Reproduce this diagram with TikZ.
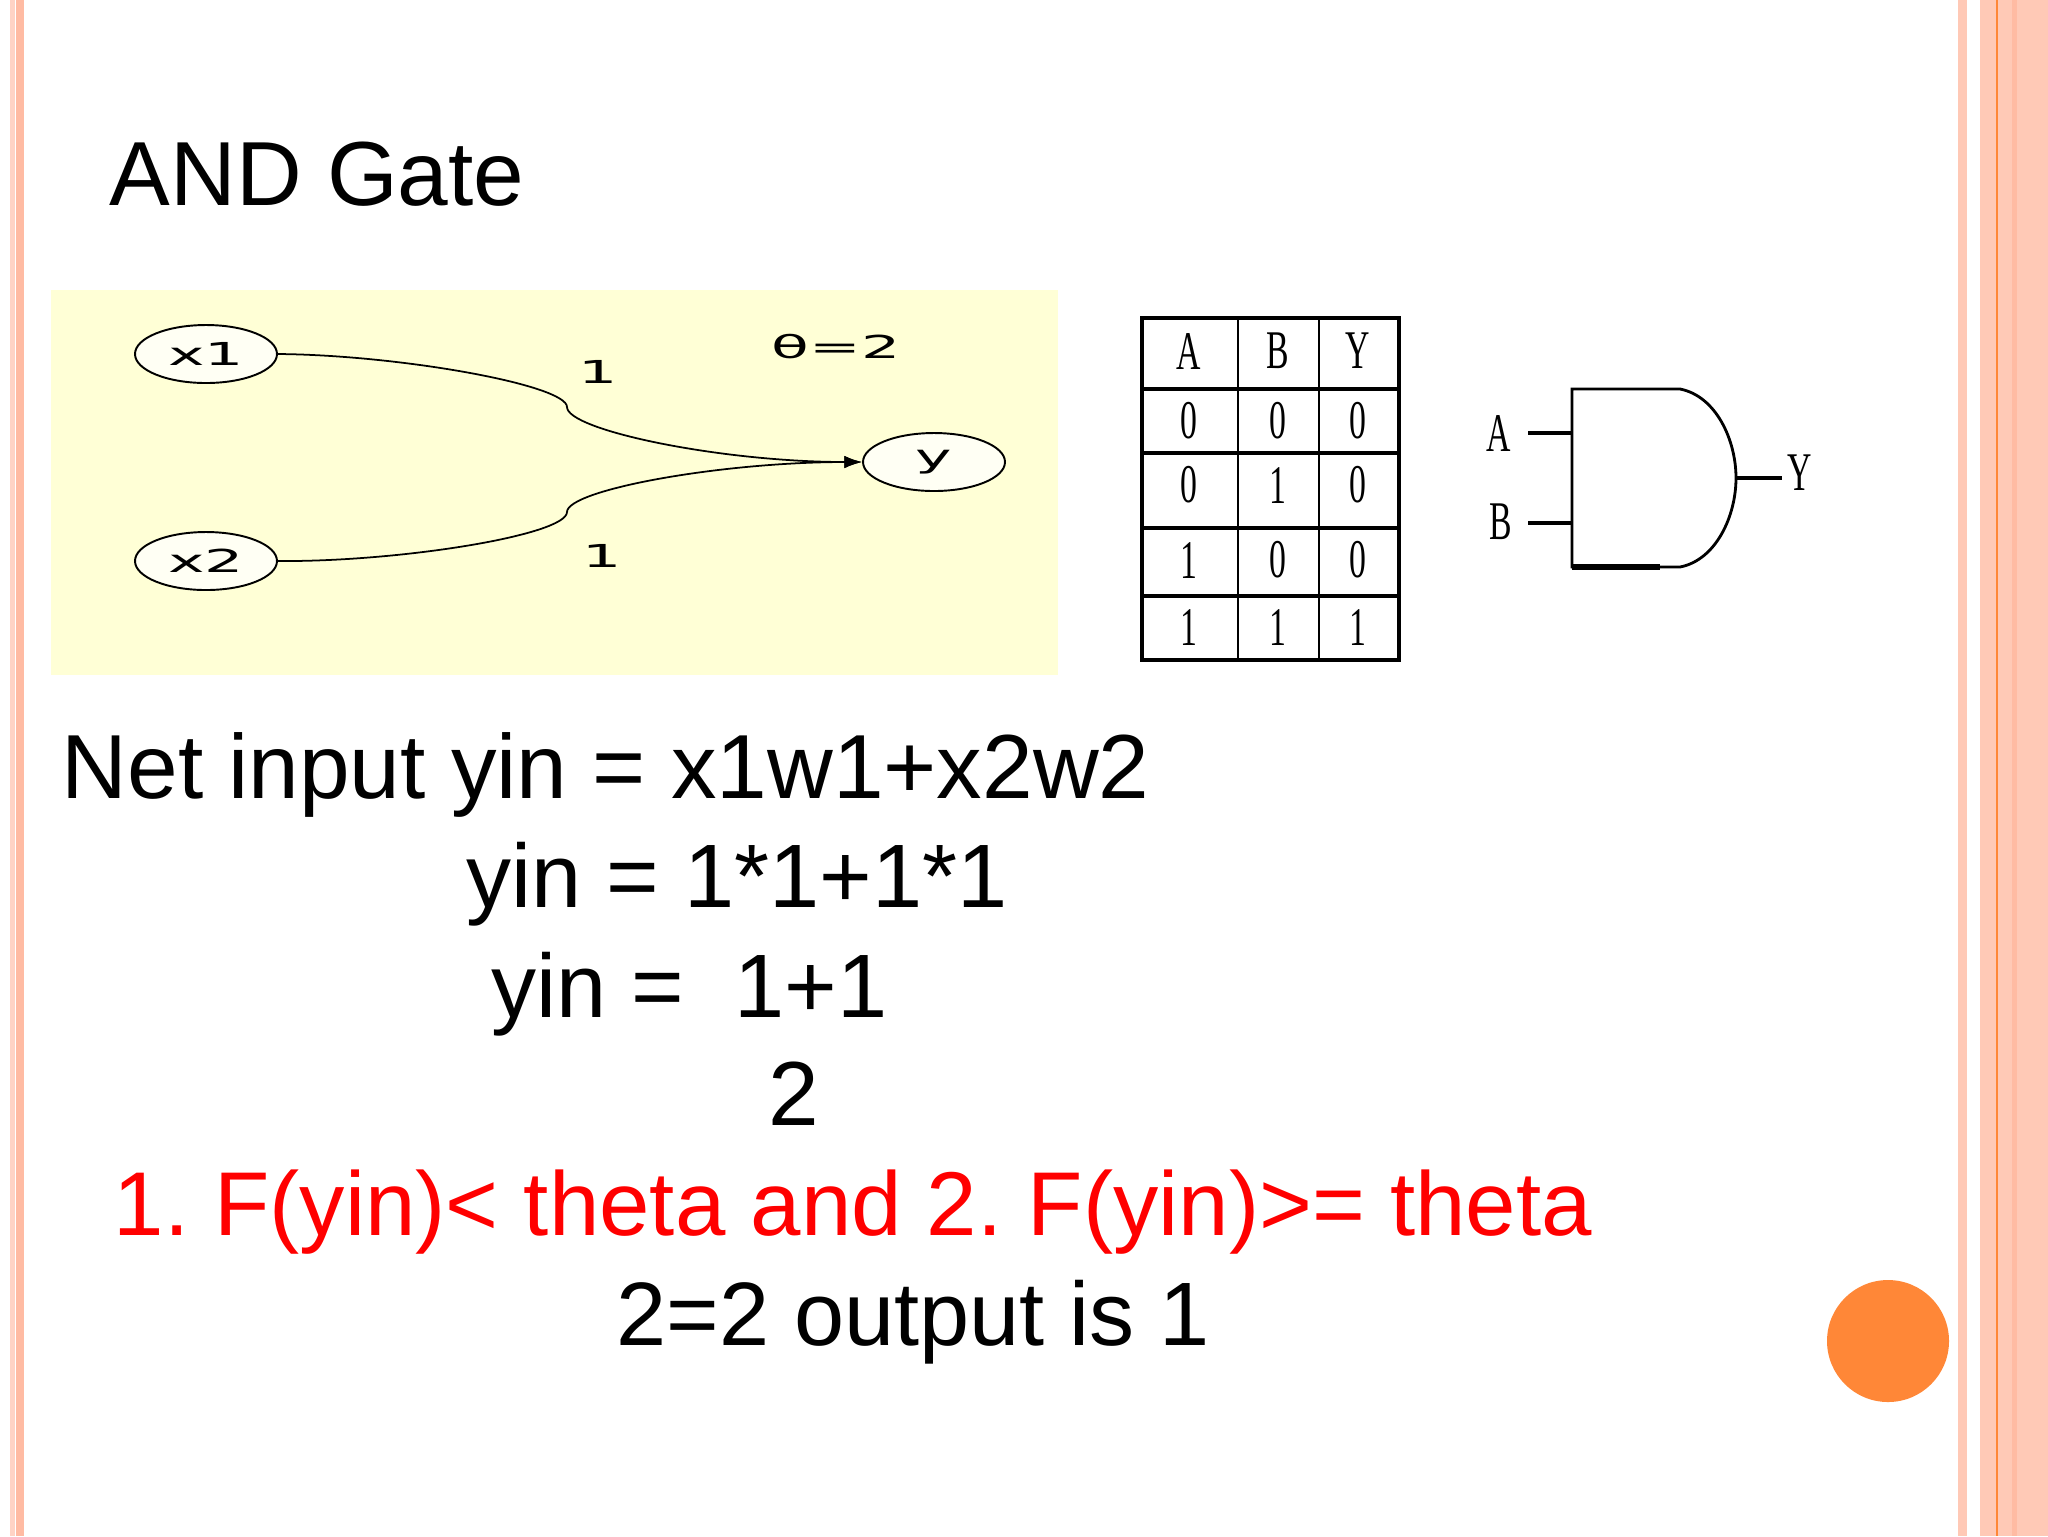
\documentclass[tikz,border=0pt]{standalone}
\usepackage{fontspec}
\usepackage{graphicx}
\setmainfont{Liberation Sans}
\newfontfamily\netfont{DejaVu Sans}
\newfontfamily\tablefont{Liberation Serif}
\usetikzlibrary{arrows.meta,shapes.geometric,calc}
\definecolor{stripe}{HTML}{FFC9B6}
\definecolor{stripepale}{HTML}{FFD3C5}
\definecolor{stripedark}{HTML}{FFBBA3}
\definecolor{dotorange}{HTML}{FF8737}
\definecolor{netyellow}{HTML}{FFFFD6}
\definecolor{netnode}{HTML}{FFFFF4}
\newcommand{\nettext}[1]{\scalebox{1.95}[1]{\netfont #1}}
\newcommand{\tabtext}[1]{\scalebox{.62}[1]{\tablefont #1}}
\newcommand{\unitpx}{*0.1mm}
\tikzset{
    slidetext/.style={anchor=base west,inner sep=0pt,font=\fontsize{25.9}{30}\selectfont},
    slidenarrow/.style={slidetext,font=\fontsize{25.63}{30}\selectfont},
    slidered/.style={slidetext,text=red,font=\fontsize{25.78}{30}\selectfont},
    unit/.style={draw,ellipse,fill=netnode,line width=0.55pt,inner sep=0pt,minimum width=142\unitpx,minimum height=58\unitpx,font=\fontsize{9}{10}\selectfont},
    netlabel/.style={inner sep=0pt,font=\fontsize{9}{10}\selectfont},
    synapse/.style={line width=0.5pt,-{Latex[length=5pt,width=3.5pt]}},
    cell/.style={inner sep=0pt,font=\fontsize{15.5}{18}\selectfont},
    wire/.style={line width=1.1pt},
  }
\frenchspacing
\begin{document}
\begin{tikzpicture}[x=0.1mm,y=-0.1mm]
  \useasboundingbox (0,0) rectangle (2048,1536);
  \fill[white] (0,0) rectangle (2048,1536);

  %BORDERS
  \fill[stripepale] (10,0) rectangle (15,1536);
  \fill[stripedark] (16,0) rectangle (24,1536);
  \fill[stripe] (1958,0) rectangle (1967,1536);
  \fill[stripe] (1980,0) rectangle (2048,1536);
  \fill[stripedark] (2012,0) rectangle (2017,1536);
  \fill[dotorange] (1996,0) rectangle (1998,1536);
  \node[circle,fill=dotorange,inner sep=0pt,minimum size=122\unitpx] (dot) at (1888,1341) {};

  %TITLE
  \node[slidetext] (title) at (109,205) {AND Gate};

  %NETWORK
  \fill[netyellow] (51,290) rectangle (1058,675);
  \node[unit] (x1) at (206,354) {\nettext{x1}};
  \node[unit] (x2) at (206,561) {\nettext{x2}};
  \node[unit] (y) at (934,462) {\raisebox{-1.2pt}{\nettext{y}}};
  \draw[synapse] (x1.east) .. controls (400,355) and (567,385) .. (567,407)
    .. controls (567,430) and (720,462) .. (y.west);
  \draw[synapse] (x2.east) .. controls (400,562) and (567,535) .. (567,512)
    .. controls (567,490) and (720,462) .. (y.west);
  \node[netlabel] (w1) at (598,372) {\nettext{1}};
  \node[netlabel] (w2) at (602,556) {\nettext{1}};
  \node[netlabel] (theta) at (836,347) {\nettext{θ=2}};

  %TABLE
  \draw[line width=0.9pt] (1142,318) rectangle (1399,660);
  \draw[line width=0.8pt] (1238,318) -- (1238,660) (1319,318) -- (1319,660);
  \foreach \rowy in {389,453,528,596}
    \draw[line width=0.9pt] (1142,\rowy) -- (1399,\rowy);
  \foreach \a/\b/\r/\rowy/\n in {A/B/Y/351/0,0/0/0/421/1,0/1/0/485/2,1/0/0/560/3,1/1/1/627/4}{
    \node[cell] (a\n) at (1189,\rowy) {\tabtext{\a}};
    \node[cell] (b\n) at (1278,\rowy) {\tabtext{\b}};
    \node[cell] (r\n) at (1358,\rowy) {\tabtext{\r}};
  }

  %GATE
  \draw[line width=0.8pt] (1572,389) -- (1680,389)
    .. controls (1716,396) and (1736,440) .. (1736,478)
    .. controls (1736,516) and (1716,560) .. (1680,567) -- (1572,567) -- cycle;
  \draw[line width=1.5pt] (1572,567) -- (1660,567);
  \coordinate (gateA) at (1572,433);
  \coordinate (gateB) at (1572,523);
  \coordinate (gateY) at (1736,478);
  \node[cell] (labA) at (1499,433) {\tabtext{A}};
  \node[cell] (labB) at (1501,522) {\tabtext{B}};
  \node[cell] (labY) at (1800,473) {\tabtext{Y}};
  \draw[wire] (gateA) -- (1528,433);
  \draw[wire] (gateB) -- (1528,523);
  \draw[wire] (gateY) -- (1782,478);

  %EQUATIONS
  \node[slidetext] (l1) at (61,798) {Net input yin = x1w1+x2w2};
  \node[slidenarrow] (l2) at (466,907) {yin = 1*1+1*1};
  \node[slidenarrow] (l3) at (491,1017) {yin =\ \ 1+1};
  \node[slidetext] (l4) at (768,1125) {2};
  \node[slidered] (l5) at (113,1235) {1. F(yin)< theta and 2. F(yin)>= theta};
  \node[slidenarrow] (l6) at (616,1345) {2=2 output is 1};
\end{tikzpicture}
\end{document}
